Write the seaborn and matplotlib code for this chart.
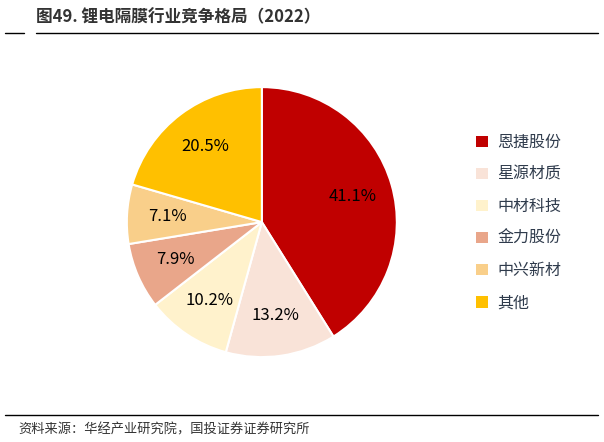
import matplotlib
matplotlib.use("Agg")
import matplotlib.pyplot as plt
import seaborn as sns
from matplotlib.patches import Patch
from matplotlib.lines import Line2D

sns.set_theme(style="white")
plt.rcParams['font.family'] = ['Noto Sans CJK SC', 'DejaVu Sans']

categories = ["恩捷股份", "星源材质", "中材科技", "金力股份", "中兴新材", "其他"]
shares = [41.1, 13.2, 10.2, 7.9, 7.1, 20.5]
colors = ["#C00000", "#F9E3D8", "#FFF2CC", "#E9A68A", "#F9CF8A", "#FFC000"]

fig = plt.figure(figsize=(6.04, 4.42), dpi=100)
ax = fig.add_axes([0.21, 0.192, 0.447, 0.611])
wedges, texts, autotexts = ax.pie(shares, colors=colors, startangle=90, counterclock=False,
       autopct='%.1f%%', pctdistance=0.7, radius=1.25,
       wedgeprops=dict(edgecolor='white', linewidth=1.5),
       textprops=dict(fontsize=12, color='black'))
ax.set_aspect('equal')

handles = [Patch(facecolor=c, edgecolor='none') for c in colors]
leg = fig.legend(handles, categories, loc='upper left', bbox_to_anchor=(0.765, 0.73),
                 frameon=False, fontsize=11.5, handlelength=0.7, handleheight=0.7,
                 labelspacing=0.95, handletextpad=0.6)
for t in leg.get_texts():
    t.set_color('#2F3B4C')

fig.text(0.06, 0.96, "图49. 锂电隔膜行业竞争格局（2022）", fontsize=12, fontweight='bold',
         color='#333333', va='center')
fig.add_artist(Line2D([0.009, 0.04], [0.925, 0.925], color='black', lw=1, transform=fig.transFigure))
fig.add_artist(Line2D([0.06, 0.99], [0.925, 0.925], color='black', lw=1, transform=fig.transFigure))
fig.add_artist(Line2D([0.009, 0.99], [0.062, 0.062], color='black', lw=1, transform=fig.transFigure))
fig.text(0.03, 0.028, "资料来源：华经产业研究院，国投证券证券研究所", fontsize=9.5,
         style='italic', color='#333333', va='center')

fig.savefig("out.png", dpi=100)
